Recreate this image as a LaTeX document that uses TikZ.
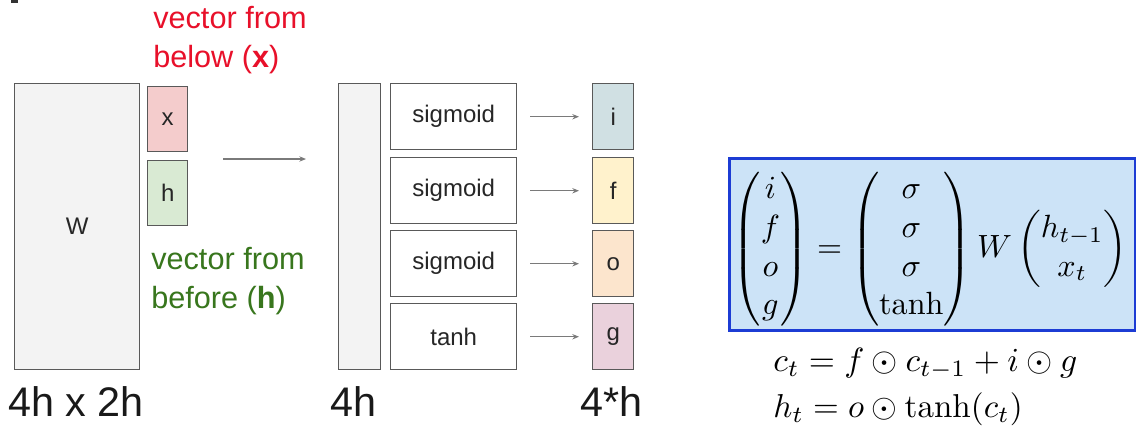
\documentclass[tikz,border=0pt]{standalone}
\usepackage{amsmath}
\usepackage{fontspec}
\newfontfamily\arial{Liberation Sans}
\usetikzlibrary{arrows.meta}
\definecolor{wfill}{HTML}{F3F3F3}
\definecolor{xfill}{HTML}{F4CCCC}
\definecolor{hfill}{HTML}{D9EAD3}
\definecolor{ifill}{HTML}{D0E0E3}
\definecolor{ffill}{HTML}{FFF2CC}
\definecolor{ofill}{HTML}{FCE5CD}
\definecolor{gfill}{HTML}{EAD1DC}
\definecolor{edge}{HTML}{595959}
\definecolor{redtxt}{HTML}{E8102A}
\definecolor{greentxt}{HTML}{38761D}
\definecolor{eqfill}{HTML}{CCE3F7}
\definecolor{eqedge}{HTML}{1C3CD4}
\tikzset{
  blk/.style={draw=edge, line width=1.1pt, inner sep=0pt, anchor=north west},
  lbl/.style={font=\arial\fontsize{18}{21}\selectfont, text=black!85},
  big/.style={font=\arial\fontsize{31}{36}\selectfont, text=black!90},
  note/.style={font=\arial\fontsize{23}{29}\selectfont, align=left, anchor=base west, inner sep=0pt},
  flow/.style={draw=edge!80, line width=0.8pt, -{Stealth[length=5pt,width=4pt]}}
}
\begin{document}
\begin{tikzpicture}[x=0.75pt,y=-0.75pt]
\useasboundingbox (0,0) rectangle (1136,432);
\fill[black!80] (11,0) rectangle (18,3);

% weight matrix and the stacked input
\node[blk, fill=wfill, minimum width=125*0.75pt, minimum height=286*0.75pt] (W) at (14,83) {};
\node[lbl] at (W.center) {W};
\node[blk, fill=xfill, minimum width=40*0.75pt, minimum height=65*0.75pt] (x) at (147,86) {};
\node[lbl] at (x.center) {x};
\node[blk, fill=hfill, minimum width=40*0.75pt, minimum height=65*0.75pt] (h) at (147,160) {};
\node[lbl] at (h.center) {h};
\node[big, anchor=base west, inner sep=0pt] (WL) at (8,416) {4h x 2h};

% the base anchor of a two-line note sits on its second line
\node[note, text=redtxt] (nx) at (153,67) {vector from\\below (\textbf{x})};
\node[note, text=greentxt] (nh) at (151,308) {vector from\\before (\textbf{h})};

\coordinate (a0) at (223,159);
\coordinate (a1) at (306,159);
\draw[flow] (a0) -- (a1);

% product vector
\node[blk, fill=wfill, minimum width=42*0.75pt, minimum height=286*0.75pt] (P) at (338,83) {};
\node[big, anchor=base west, inner sep=0pt] (PL) at (330,416) {4h};

% activations and gates
\foreach \n/\t/\y/\g/\c in {1/sigmoid/83/i/ifill, 2/sigmoid/157/f/ffill, 3/sigmoid/230/o/ofill, 4/tanh/303/g/gfill}{
  \node[blk, fill=white, minimum width=126*0.75pt, minimum height=66*0.75pt] (act\n) at (390,\y) {};
  \node[lbl] at (act\n.center) {\t};
  \node[blk, fill=\c, minimum width=41*0.75pt, minimum height=66*0.75pt] (gate\n) at (592,\y) {};
  \node[lbl] at (gate\n.center) {\g};
  \draw[flow] ([xshift=13*0.75pt]act\n.east) -- ([xshift=-13*0.75pt]gate\n.west);
}
\node[big, anchor=base west, inner sep=0pt] (GL) at (580,416) {4*h};

% LSTM equations
\node[draw=eqedge, fill=eqfill, line width=2.4pt, minimum width=406*0.75pt, minimum height=172*0.75pt, inner sep=0pt, anchor=north west] (box) at (728,157) {};
\node (eq) at (930,249) {\resizebox{296pt}{!}{$\begin{pmatrix} i\\ f\\ o\\ g\end{pmatrix} = \begin{pmatrix} \sigma\\ \sigma\\ \sigma\\ \tanh\end{pmatrix} W \begin{pmatrix} h_{t-1}\\ x_t\end{pmatrix}$}};
\node[anchor=west, inner sep=0pt] (ct) at (773,364) {\resizebox{228pt}{!}{$c_t = f\odot c_{t-1} + i\odot g$}};
\node[anchor=west, inner sep=0pt] (ht) at (773,409) {\resizebox{187pt}{!}{$h_t = o\odot \tanh(c_t)$}};
\end{tikzpicture}
\end{document}
